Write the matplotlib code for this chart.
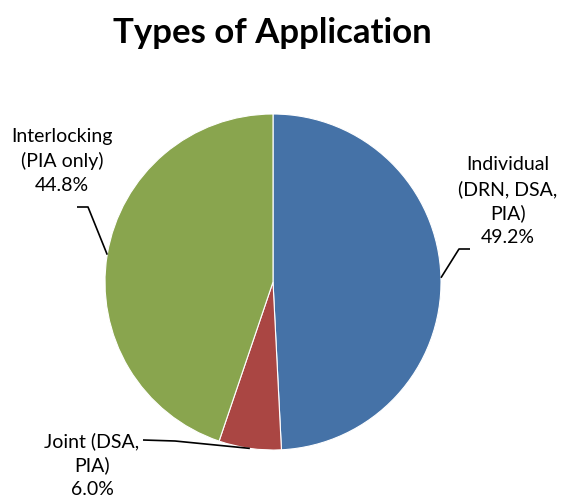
import numpy as np
import matplotlib
matplotlib.use("Agg")
import matplotlib.pyplot as plt

plt.rcParams['font.family'] = ['Lato', 'DejaVu Sans']

title = "Types of Application"
labels = ["Individual\n(DRN, DSA,\nPIA)", "Joint (DSA,\nPIA)", "Interlocking\n(PIA only)"]
shares = [49.2, 6.0, 44.8]
colors = ["#4572A7", "#AA4643", "#89A54E"]

W, H = 561, 497
fig = plt.figure(figsize=(W / 100, H / 100), dpi=100)
ax = fig.add_axes([0, 0, 1, 1])

cx, cy, r = 273, H - 282, 168
wedges, _ = ax.pie(shares, colors=colors, startangle=90, counterclock=False,
                   center=(cx, cy), radius=r,
                   wedgeprops=dict(edgecolor="white", linewidth=0.8))
ax.set_xlim(0, W)
ax.set_ylim(0, H)
ax.set_aspect('equal')
ax.axis('off')

# label text positions (pixels from top-left) and leader elbow points
text_pos = [(508, 201), (92, 465), (62, 161)]
elbows = [[(470, 249), (459, 249)], [(143, 440), (175, 441)], [(77, 207), (88, 207)]]

for w, lab, pct, (tx, ty), elb in zip(wedges, labels, shares, text_pos, elbows):
    ang = np.deg2rad((w.theta1 + w.theta2) / 2)
    ex, ey = cx + r * np.cos(ang), cy + r * np.sin(ang)
    xs = [p[0] for p in elb] + [ex]
    ys = [H - p[1] for p in elb] + [ey]
    ax.plot(xs, ys, color="black", lw=1.2, solid_capstyle='butt')
    ax.text(tx, H - ty, f"{lab}\n{pct:.1f}%", ha="center", va="center",
            fontsize=14, linespacing=1.47)

fig.text(272 / W, 1 - 33 / H, title, ha="center", va="center",
         fontsize=25, fontweight="bold")

fig.savefig("out.png", dpi=100)
